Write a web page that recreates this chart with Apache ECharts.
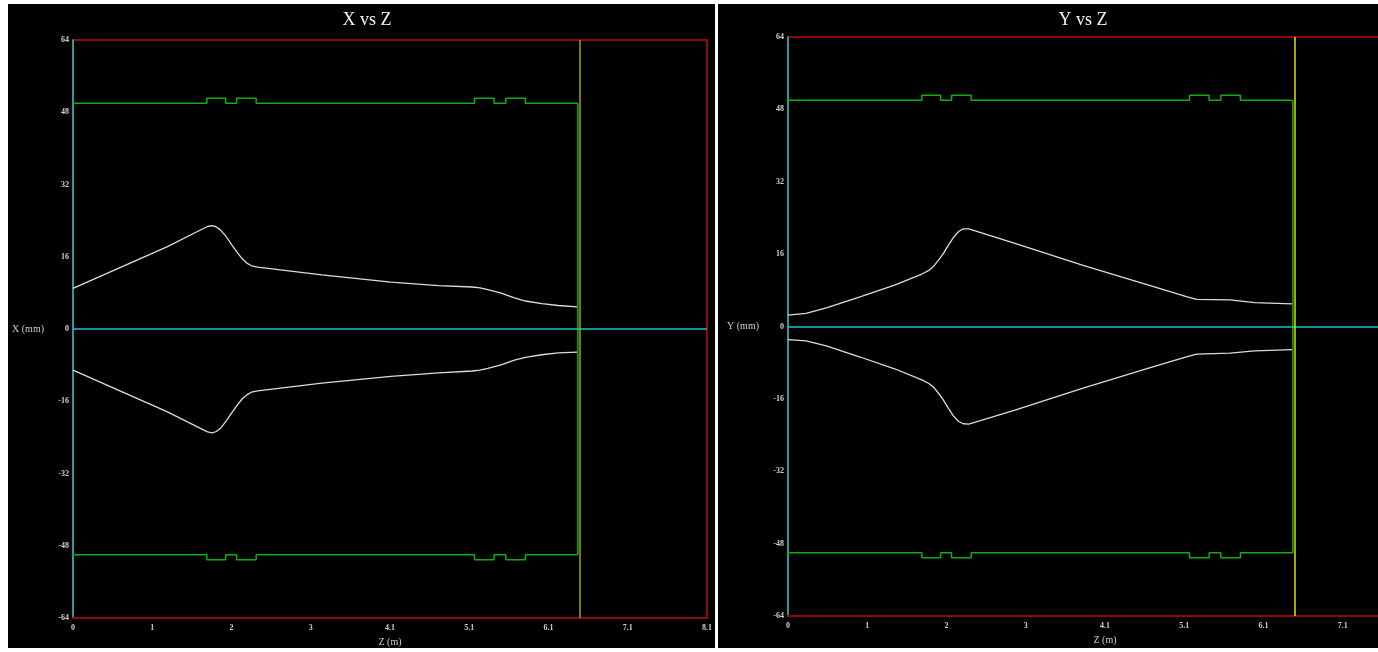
<!DOCTYPE html>
<html>
<head>
<meta charset="utf-8">
<script src="https://cdn.jsdelivr.net/npm/echarts@6/dist/echarts.min.js"></script>
<style>
  html, body { margin: 0; padding: 0; background: #ffffff; }
  #chart { width: 1378px; height: 652px; }
</style>
</head>
<body>
<div id="chart"></div>
<script>
// Axis tick labels
const zTickLabels = ['0', '1', '2', '3', '4.1', '5.1', '6.1', '7.1', '8.1'];
const zTickStep = 1.0125;
const mmTickLabels = ['-64', '-48', '-32', '-16', '0', '16', '32', '48', '64'];

// Beam envelope in the horizontal plane, [z (m), x (mm)]
const xEnvUpper = [[0,9.0],[0.6,13.6],[1.2,18.2],[1.66,22.2],[1.72,22.7],[1.77,22.9],[1.82,22.7],[1.88,22.0],[1.96,20.4],[2.03,18.6],[2.10,16.9],[2.16,15.6],[2.22,14.6],[2.28,14.0],[2.36,13.7],[3.18,12.0],[4.06,10.4],[4.67,9.6],[5.10,9.3],[5.20,9.1],[5.30,8.7],[5.46,8.0],[5.64,6.9],[5.78,6.2],[5.99,5.6],[6.20,5.2],[6.44,4.9]];
const xEnvLower = [[0,-9.1],[0.6,-13.7],[1.2,-18.3],[1.66,-22.3],[1.72,-22.8],[1.78,-23.0],[1.83,-22.7],[1.89,-21.9],[1.96,-20.3],[2.03,-18.5],[2.10,-16.8],[2.16,-15.5],[2.22,-14.6],[2.28,-14.0],[2.36,-13.7],[3.18,-12.0],[4.06,-10.5],[4.67,-9.7],[5.10,-9.3],[5.20,-9.1],[5.30,-8.7],[5.46,-8.0],[5.64,-6.9],[5.78,-6.3],[5.99,-5.7],[6.20,-5.3],[6.44,-5.1]];

// Beam envelope in the vertical plane, [z (m), y (mm)]
const yEnvUpper = [[0,2.5],[0.23,2.9],[0.49,4.1],[0.93,6.6],[1.37,9.2],[1.71,11.6],[1.80,12.4],[1.86,13.3],[1.92,14.6],[1.98,16.0],[2.05,18.0],[2.11,19.6],[2.18,21.0],[2.24,21.6],[2.31,21.6],[2.90,18.4],[3.77,13.5],[4.65,8.9],[5.09,6.6],[5.22,6.0],[5.65,5.9],[5.96,5.3],[6.44,5.0]];
const yEnvLower = [[0,-2.9],[0.23,-3.2],[0.49,-4.3],[0.93,-6.8],[1.37,-9.4],[1.71,-11.8],[1.80,-12.6],[1.86,-13.4],[1.92,-14.7],[1.98,-16.1],[2.05,-18.1],[2.11,-19.7],[2.18,-21.0],[2.24,-21.5],[2.31,-21.6],[2.90,-18.5],[3.77,-13.6],[4.65,-9.0],[5.09,-6.7],[5.22,-6.1],[5.65,-5.9],[5.96,-5.4],[6.44,-5.1]];

// Aperture (beam pipe wall), step points [z (m), half-aperture (mm)]
const apertureUpper = [[0,50],[1.71,51.1],[1.95,50],[2.09,51.1],[2.34,50],[5.13,51.1],[5.38,50],[5.53,51.1],[5.78,50],[6.45,50]];
const apertureLower = [[0,-50],[1.71,-51.1],[1.95,-50],[2.09,-51.1],[2.34,-50],[5.13,-51.1],[5.38,-50],[5.53,-51.1],[5.78,-50],[6.45,-50]];
const apertureEnd = [[6.45,50],[6.45,-50]];

// End of the beamline (m)
const beamlineEnd = 6.47;

const chart = echarts.init(document.getElementById('chart'), null, { renderer: 'canvas' });

const serif = '"Liberation Serif", "DejaVu Serif", serif';
const tickColor = '#cfcfcf';
const redBorder = '#8e0a0a';
const cyan = '#19c3cf';
const green = '#0fae0f';
const envColor = '#dcdcdc';

function xAxisFor(gridIndex) {
  return {
    gridIndex, type: 'value', min: 0, max: 8.1, interval: zTickStep,
    name: 'Z (m)', nameLocation: 'middle', nameGap: 16,
    nameTextStyle: { color: tickColor, fontFamily: serif, fontSize: 10 },
    axisLine: { show: true, onZero: false, lineStyle: { color: redBorder, width: 2 } },
    axisTick: { show: false },
    splitLine: { show: false },
    axisLabel: {
      color: tickColor, fontFamily: serif, fontSize: 8, fontWeight: 'bold', margin: 6,
      formatter: v => zTickLabels[Math.round(v / zTickStep)]
    }
  };
}
function yAxisFor(gridIndex, name) {
  return {
    gridIndex, type: 'value', min: -64, max: 64, interval: 16,
    name, nameLocation: 'middle', nameRotate: 0, nameGap: 29,
    nameTextStyle: { color: tickColor, fontFamily: serif, fontSize: 10, align: 'right' },
    axisLine: { show: true, onZero: false, lineStyle: { color: cyan, width: 1.5 } },
    axisTick: { show: false },
    splitLine: { show: false },
    axisLabel: {
      color: tickColor, fontFamily: serif, fontSize: 8, fontWeight: 'bold', margin: 4,
      formatter: v => mmTickLabels[Math.round((v + 64) / 16)]
    }
  };
}
function lineSeries(idx, data, color, width, extra) {
  return Object.assign({
    type: 'line', xAxisIndex: idx, yAxisIndex: idx, data,
    showSymbol: false, symbol: 'none', silent: true, animation: false,
    lineStyle: { color, width }
  }, extra || {});
}
function guideSeries(idx) {
  // zero line and end-of-beamline marker
  return {
    type: 'line', xAxisIndex: idx, yAxisIndex: idx, data: [], silent: true, animation: false,
    markLine: {
      symbol: 'none', silent: true, animation: false, label: { show: false },
      data: [
        { yAxis: 0, lineStyle: { color: cyan, width: 1.5, type: 'solid' } },
        { xAxis: beamlineEnd, lineStyle: { color: idx === 0 ? '#a7a300' : '#e3e000', width: 1.5, type: 'solid' } }
      ]
    }
  };
}

const option = {
  backgroundColor: '#ffffff',
  animation: false,
  graphic: [
    { type: 'rect', z: -10, shape: { x: 8, y: 4, width: 707, height: 644 }, style: { fill: '#000000' } },
    { type: 'rect', z: -10, shape: { x: 718, y: 4, width: 660, height: 644 }, style: { fill: '#000000' } }
  ],
  title: [
    { text: 'X vs Z', left: 362, top: 6, textAlign: 'center',
      textStyle: { color: '#f2f2f2', fontFamily: serif, fontSize: 18, fontWeight: 'normal' } },
    { text: 'Y vs Z', left: 1078, top: 6, textAlign: 'center',
      textStyle: { color: '#f2f2f2', fontFamily: serif, fontSize: 18, fontWeight: 'normal' } }
  ],
  grid: [
    { left: 73, top: 40, width: 634, height: 578, show: true, borderColor: redBorder, borderWidth: 2,
      backgroundColor: 'transparent', outerBoundsMode: 'none', containLabel: false },
    { left: 788, top: 37, width: 634, height: 579, show: true, borderColor: redBorder, borderWidth: 2,
      backgroundColor: 'transparent', outerBoundsMode: 'none', containLabel: false }
  ],
  xAxis: [xAxisFor(0), xAxisFor(1)],
  yAxis: [yAxisFor(0, 'X (mm)'), yAxisFor(1, 'Y (mm)')],
  series: [
    guideSeries(0),
    lineSeries(0, apertureUpper, green, 1.5, { step: 'end' }),
    lineSeries(0, apertureLower, green, 1.5, { step: 'end' }),
    lineSeries(0, apertureEnd, green, 1.5),
    lineSeries(0, xEnvUpper, envColor, 1.3),
    lineSeries(0, xEnvLower, envColor, 1.3),
    guideSeries(1),
    lineSeries(1, apertureUpper, green, 1.5, { step: 'end' }),
    lineSeries(1, apertureLower, green, 1.5, { step: 'end' }),
    lineSeries(1, apertureEnd, green, 1.5),
    lineSeries(1, yEnvUpper, envColor, 1.3),
    lineSeries(1, yEnvLower, envColor, 1.3)
  ]
};
chart.setOption(option);
</script>
</body>
</html>
